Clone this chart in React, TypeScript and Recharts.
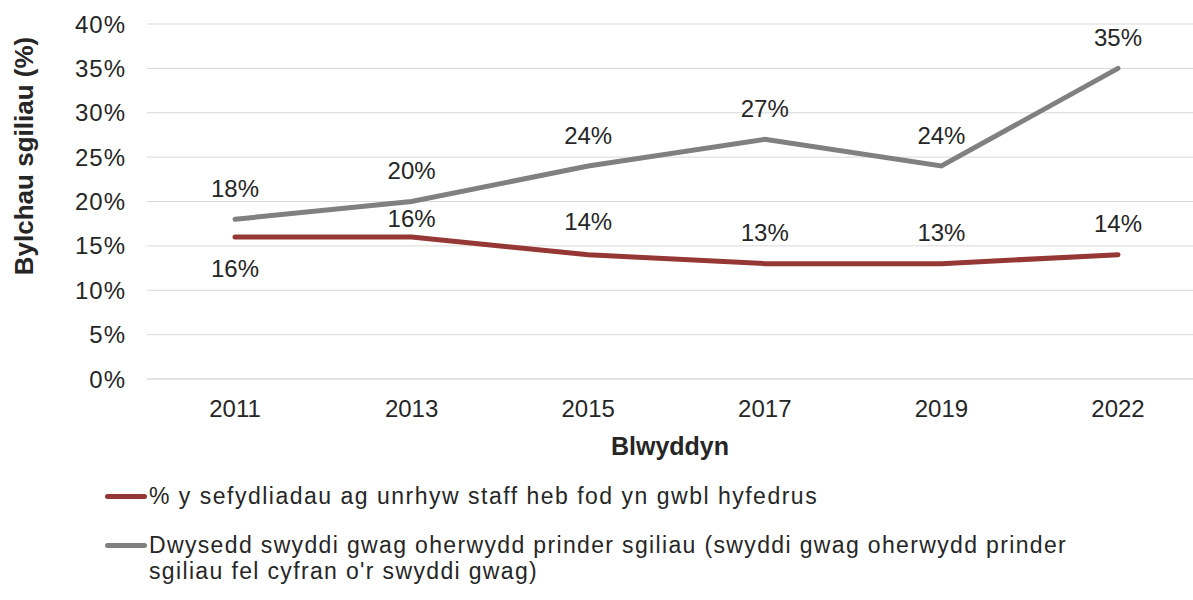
import React from 'react';
import {
  LineChart,
  Line,
  XAxis,
  YAxis,
  CartesianGrid,
  Legend,
  LabelList,
} from 'recharts';

const years = ['2011', '2013', '2015', '2017', '2019', '2022'];
const staffNotProficient = [16, 16, 14, 13, 13, 14];
const skillShortageDensity = [18, 20, 24, 27, 24, 35];
const yTicks = [0, 5, 10, 15, 20, 25, 30, 35, 40];

const seriesNames = {
  staff: '% y sefydliadau ag unrhyw staff heb fod yn gwbl hyfedrus',
  density:
    "Dwysedd swyddi gwag oherwydd prinder sgiliau (swyddi gwag oherwydd prinder sgiliau fel cyfran o'r swyddi gwag)",
};

const data = years.map((year, i) => ({
  year,
  staff: staffNotProficient[i],
  density: skillShortageDensity[i],
}));

const RED = '#953735';
const GREY = '#808080';
const TEXT = '#262626';
const FONT = '"Liberation Sans", Arial, sans-serif';

// vertical offset of each data label from its point (negative = above)
const makeLabel = (offsets: number[]) => (props: any) => {
  const { x, y, value, index } = props;
  const dy = offsets[index] ?? -31;
  return (
    <text
      x={x}
      y={y + dy}
      textAnchor="middle"
      dominantBaseline="central"
      fill={TEXT}
      fontSize={24}
      fontFamily={FONT}
    >
      {`${value}%`}
    </text>
  );
};

const renderLegend = () => (
  <div style={{ height: 130, fontFamily: FONT, fontSize: 23, color: TEXT, lineHeight: '26px' }}>
    <div style={{ display: 'flex', alignItems: 'flex-start', paddingTop: 13 }}>
      <span style={{ display: 'inline-block', width: 42, height: 5, background: RED, borderRadius: 3, marginLeft: 105, marginTop: 11, flexShrink: 0 }} />
      <span style={{ marginLeft: 2, letterSpacing: 1.5 }}>{seriesNames.staff}</span>
    </div>
    <div style={{ display: 'flex', alignItems: 'flex-start', marginTop: 23 }}>
      <span style={{ display: 'inline-block', width: 42, height: 5, background: GREY, borderRadius: 3, marginLeft: 105, marginTop: 11, flexShrink: 0 }} />
      <span style={{ marginLeft: 2, width: 930, letterSpacing: 1.35 }}>{seriesNames.density}</span>
    </div>
  </div>
);

export default function App() {
  return (
    <div style={{ position: 'absolute', left: 0, top: 0, width: 1193, height: 600, background: '#fff' }}>
      <LineChart width={1193} height={600} data={data} margin={{ top: 24, right: 0, bottom: 0, left: 0 }}>
        <CartesianGrid stroke="#d9d9d9" vertical={false} />
        <XAxis
          dataKey="year"
          padding={{ left: 88, right: 75 }}
          axisLine={{ stroke: '#d9d9d9' }}
          tickLine={false}
          tickMargin={15}
          height={91}
          tick={{ fill: TEXT, fontSize: 24, fontFamily: FONT }}
          label={{
            value: 'Blwyddyn',
            position: 'insideBottom',
            offset: 15,
            fill: TEXT,
            fontSize: 25,
            fontWeight: 'bold',
            fontFamily: FONT,
          }}
        />
        <YAxis
          width={147}
          domain={[0, 40]}
          ticks={yTicks}
          axisLine={false}
          tickLine={false}
          tickMargin={15}
          tickFormatter={(v) => `${v}%`}
          tick={{ fill: TEXT, fontSize: 24, fontFamily: FONT, letterSpacing: 1 }}
          label={{
            content: () => (
              <text
                x={24}
                y={156}
                transform="rotate(-90 24 156)"
                textAnchor="middle"
                dominantBaseline="central"
                fill={TEXT}
                fontSize={26}
                fontWeight="bold"
                fontFamily={FONT}
              >
                Bylchau sgiliau  (%)
              </text>
            ),
          }}
        />
        <Legend verticalAlign="bottom" content={renderLegend} wrapperStyle={{ left: 0, width: 1193 }} />
        <Line
          type="linear"
          dataKey="density"
          name={seriesNames.density}
          stroke={GREY}
          strokeWidth={5}
          strokeLinecap="round"
          dot={false}
          activeDot={false}
          isAnimationActive={false}
        >
          <LabelList dataKey="density" content={makeLabel([-31, -31, -31, -31, -31, -31])} />
        </Line>
        <Line
          type="linear"
          dataKey="staff"
          name={seriesNames.staff}
          stroke={RED}
          strokeWidth={5}
          strokeLinecap="round"
          dot={false}
          activeDot={false}
          isAnimationActive={false}
        >
          <LabelList dataKey="staff" content={makeLabel([31, -19, -33, -31, -31, -31])} />
        </Line>
      </LineChart>
    </div>
  );
}
